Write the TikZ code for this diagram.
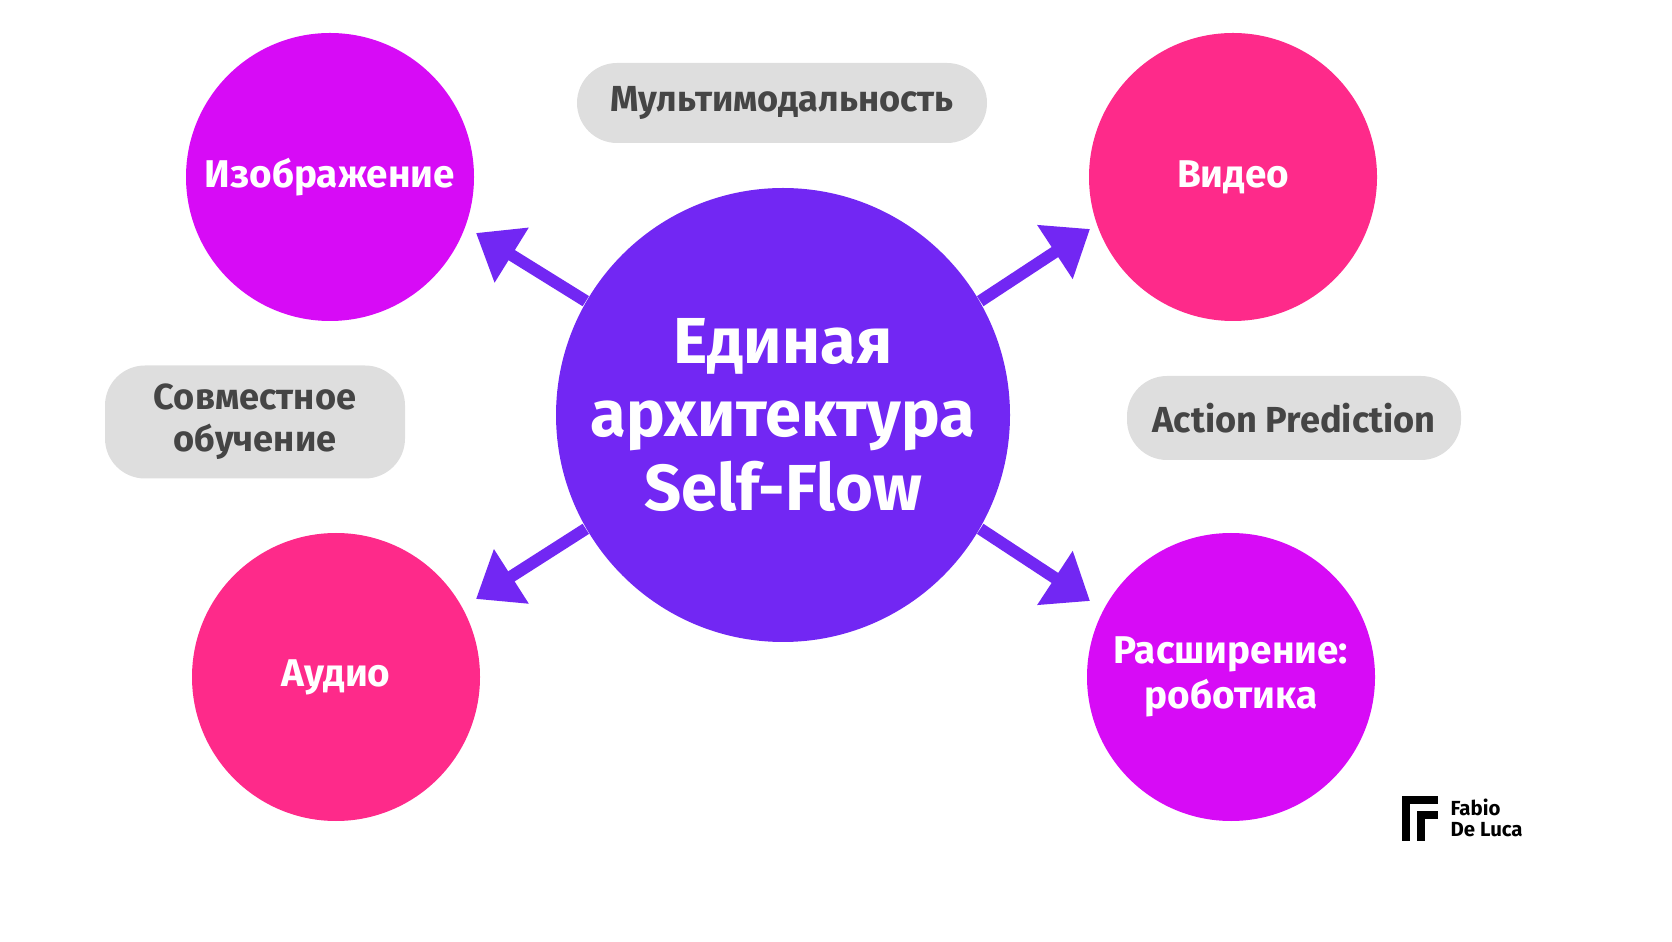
\documentclass[tikz,border=0pt]{standalone}
\usepackage{fontspec}
\setmainfont{Fira Sans}
\usetikzlibrary{arrows.meta,positioning}
\definecolor{hubviolet}{HTML}{7227F3}
\definecolor{modmagenta}{HTML}{D70BF6}
\definecolor{modpink}{HTML}{FE2A8A}
\definecolor{pillgray}{HTML}{DEDEDE}
\definecolor{pilltext}{HTML}{454545}
\tikzset{
  hub/.style={circle,fill=hubviolet,minimum size=4.54cm,inner sep=0pt,text=white,align=center,
    font=\fontsize{18.5}{21}\selectfont\bfseries},
  modality/.style={circle,minimum size=2.88cm,inner sep=0pt,text=white,align=center,
    font=\fontsize{11}{13}\selectfont\bfseries},
  pill/.style={rounded corners=0.4cm,fill=pillgray,text=pilltext,align=center,inner sep=0pt,
    font=\fontsize{10.3}{12}\selectfont\bfseries},
  link/.style={hubviolet,line width=0.12cm,-{Triangle[length=0.42cm,width=0.62cm]}}
}
\begin{document}
\begin{tikzpicture}
\useasboundingbox (0,0) rectangle (16.72,9.41);
\node[hub] (hub) at (7.83,5.26) {Единая\\архитектура\\Self-Flow};
\node[modality,fill=modmagenta] (image) at (3.30,7.64) {Изображение};
\node[modality,fill=modpink] (video) at (12.33,7.64) {Видео};
\node[modality,fill=modpink] (audio) at (3.36,2.64) {Аудио};
\node[modality,fill=modmagenta] (robot) at (12.31,2.64) {Расширение:\\роботика};
\node[pill,minimum width=4.1cm,minimum height=0.8cm] (multi) at (7.82,8.38) {Мультимодальность};
\node[pill,minimum width=3.0cm,minimum height=1.13cm] (joint) at (2.55,5.19) {Совместное\\обучение};
\node[pill,minimum width=3.34cm,minimum height=0.84cm] (action) at (12.94,5.23) {Action Prediction};
% arrows from the hub
\coordinate (tl) at (4.76,7.08);
\coordinate (tr) at (10.90,7.12);
\coordinate (bl) at (4.76,3.42);
\coordinate (br) at (10.90,3.40);
\draw[link] (hub.150) -- (tl);
\draw[link] (hub.30) -- (tr);
\draw[link] (hub.210) -- (bl);
\draw[link] (hub.330) -- (br);
% logo
\fill[black] (14.02,1.00) rectangle (14.10,1.45);
\fill[black] (14.02,1.37) rectangle (14.38,1.45);
\fill[black] (14.17,1.00) rectangle (14.25,1.30);
\fill[black] (14.17,1.22) rectangle (14.38,1.30);
\node[align=left,anchor=west,font=\fontsize{5.8}{6}\selectfont\bfseries,inner sep=0] (brand) at (14.50,1.23) {Fabio\\De Luca};
\end{tikzpicture}
\end{document}
